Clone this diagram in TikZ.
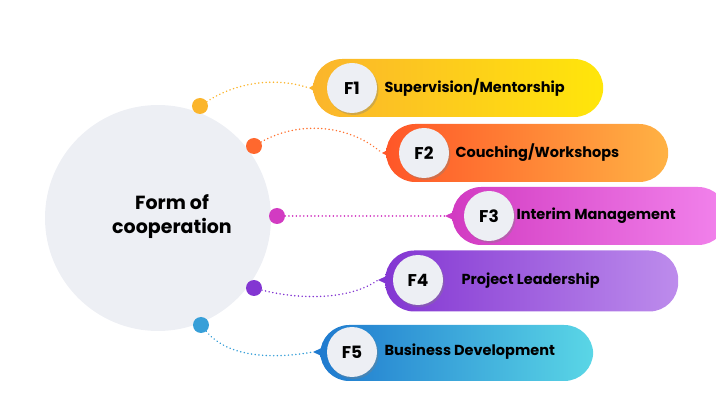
\documentclass[tikz,border=0pt]{standalone}
\usepackage{fontspec}
\setmainfont{Poppins}
\usetikzlibrary{shadows}
\definecolor{bg}{HTML}{EDEFF4}
\begin{document}
\begin{tikzpicture}[x=1pt,y=-1pt,
  pill/.style={rectangle,rounded corners=29pt,minimum height=58pt,inner sep=0pt,anchor=west},
  badge/.style={circle,fill=bg,minimum size=50pt,inner sep=0pt,font=\bfseries\fontsize{17}{17}\selectfont,drop shadow={shadow xshift=1.5pt,shadow yshift=-2pt,opacity=0.35}},
  lab/.style={anchor=west,font=\bfseries\fontsize{14.5}{15}\selectfont},
  dot/.style={circle,minimum size=16pt,inner sep=0pt},
  conn/.style={line width=1.6pt,dash pattern=on 0.1pt off 3.6pt,line cap=round}]
\useasboundingbox (0,0) rectangle (716,406);
\node[circle,fill=bg,minimum size=226pt,inner sep=0pt] (hub) at (158,218) {};
\node[font=\bfseries\fontsize{19}{24}\selectfont,align=center] (hubt) at (172,217) {Form of\\cooperation};
% F1
\definecolor{a1}{HTML}{FBB52C}\definecolor{b1}{HTML}{FFE60A}
\fill[a1] (320,81) -- (309,88) -- (320,95) -- cycle;
\node[pill,minimum width=290pt,left color=a1,right color=b1] (p1) at (313,88) {};
\coordinate (k1) at (309,88);
\node[badge] (c1) at (352,88) {F1};
\node[lab] (t1) at (381,88) {Supervision/Mentorship};
\node[dot,fill=a1] (d1) at (200,106) {};
\draw[conn,a1] (d1) .. controls (240,80) and (280,78) .. (k1);
% F2
\definecolor{a2}{HTML}{FF5628}\definecolor{b2}{HTML}{FFB244}
\fill[a2] (395,146) -- (382,153) -- (395,160) -- cycle;
\node[pill,minimum width=282pt,left color=a2,right color=b2] (p2) at (386,153) {};
\coordinate (k2) at (382,153);
\node[badge] (c2) at (424,153) {F2};
\node[lab] (t2) at (452,153) {Couching/Workshops};
\node[dot,fill=a2!80!b2] (d2) at (254,146) {};
\draw[conn,a2!70!b2] (d2) .. controls (300,120) and (350,125) .. (k2);
% F3
\definecolor{a3}{HTML}{D23BC2}\definecolor{b3}{HTML}{F283EC}
\fill[a3] (460,209) -- (445,216) -- (460,223) -- cycle;
\node[pill,minimum width=275pt,left color=a3,right color=b3] (p3) at (452,216) {};
\coordinate (k3) at (445,216);
\node[badge] (c3) at (489,216) {F3};
\node[lab] (t3) at (513,216) {Interim Management};
\node[dot,fill=a3] (d3) at (277,216) {};
\draw[conn,a3] (d3) -- (k3);
% F4
\definecolor{a4}{HTML}{8336D2}\definecolor{b4}{HTML}{BD8CEC}
\fill[a4] (393,273) -- (378,280) -- (393,287) -- cycle;
\node[pill,minimum width=293pt,minimum height=61pt,left color=a4,right color=b4] (p4) at (385,281) {};
\coordinate (k4) at (378,280);
\node[badge] (c4) at (418,280) {F4};
\node[lab] (t4) at (458,281) {Project Leadership};
\node[dot,fill=a4] (d4) at (254,288) {};
\draw[conn,a4] (d4) .. controls (300,300) and (350,300) .. (k4);
% F5
\definecolor{a5}{HTML}{1F7ACF}\definecolor{b5}{HTML}{5AD6E6}
\fill[a5] (328,345) -- (313,352) -- (328,359) -- cycle;
\node[pill,minimum width=273pt,minimum height=56pt,left color=a5,right color=b5] (p5) at (320,353) {};
\coordinate (k5) at (313,352);
\node[badge] (c5) at (352,352) {F5};
\node[lab] (t5) at (381,352) {Business Development};
\node[dot,fill=a5!60!b5] (d5) at (201,325) {};
\draw[conn,a5!60!b5] (d5) .. controls (230,360) and (280,358) .. (k5);
\end{tikzpicture}
\end{document}
